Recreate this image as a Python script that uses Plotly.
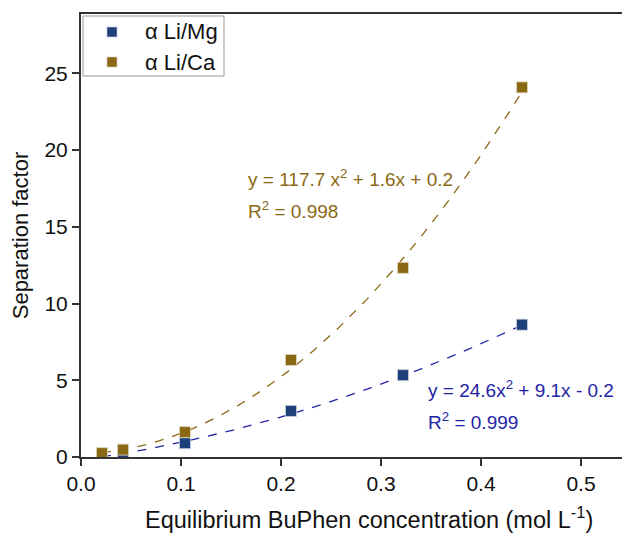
import numpy as np
import plotly.graph_objects as go

conc = [0.021, 0.042, 0.104, 0.210, 0.322, 0.441]
alpha_mg = [0.0, 0.1, 0.9, 3.0, 5.33, 8.62]
alpha_ca = [0.25, 0.48, 1.62, 6.32, 12.32, 24.08]
fit_mg = [24.6, 9.1, -0.2]
fit_ca = [117.7, 1.6, 0.2]
names = ["α Li/Mg", "α Li/Ca"]

c_mg_marker = "#1d3f7a"
c_mg_line = "#2323a5"
c_ca = "#8b6914"

xf = np.linspace(conc[0], conc[-1], 200)
fig = go.Figure()
fig.add_trace(go.Scatter(x=xf, y=np.polyval(fit_ca, xf), mode="lines",
                         line=dict(color=c_ca, width=1.3, dash="dash"), showlegend=False))
fig.add_trace(go.Scatter(x=xf, y=np.polyval(fit_mg, xf), mode="lines",
                         line=dict(color=c_mg_line, width=1.3, dash="dash"), showlegend=False))
fig.add_trace(go.Scatter(x=conc, y=alpha_mg, mode="markers", name=names[0], showlegend=False,
                         marker=dict(symbol="square", size=11, color=c_mg_marker,
                                     line=dict(color="#c8d0e0", width=0.8))))
fig.add_trace(go.Scatter(x=conc, y=alpha_ca, mode="markers", name=names[1], showlegend=False,
                         marker=dict(symbol="square", size=11, color=c_ca,
                                     line=dict(color="#e0d8c0", width=0.8))))

font = "Liberation Sans, Arial, sans-serif"
W, H = 622, 533
L, R, T, B = 81, 0, 14, 76
pw, ph = W - L - R, H - T - B

def px(x):
    return (x - L) / pw

def py(y):
    return (H - B - y) / ph

fig.update_layout(
    width=W, height=H,
    margin=dict(l=L, r=R, t=T, b=B),
    plot_bgcolor="white", paper_bgcolor="white",
    font=dict(family=font, size=21, color="#111"),
    showlegend=False,
    xaxis=dict(range=[0, 0.541], tickvals=[0, 0.1, 0.2, 0.3, 0.4, 0.5],
               ticktext=["0.0", "0.1", "0.2", "0.3", "0.4", "0.5"],
               showgrid=False, zeroline=False, showline=True, linecolor="#333",
               linewidth=2, mirror=True, ticks="outside", ticklen=7, tickwidth=1.5,
               tickcolor="#333"),
    yaxis=dict(range=[0, 28.86], tickvals=[0, 5, 10, 15, 20, 25],
               showgrid=False, zeroline=False, showline=True, linecolor="#333",
               linewidth=2, ticks="outside", ticklen=7, tickwidth=1.5, tickcolor="#333",
               title=dict(text="Separation factor", font=dict(size=22), standoff=10)),
)

# x-axis title (offset to the right as in the reference)
fig.add_annotation(xref="paper", yref="paper", x=px(369), y=py(518),
                   text="Equilibrium BuPhen concentration (mol L<sup>-1</sup>)",
                   showarrow=False, xanchor="center", yanchor="middle",
                   font=dict(size=23.5, color="#111", family=font))

# legend box
fig.add_shape(type="rect", xref="paper", yref="paper",
              x0=px(83), x1=px(224), y0=py(76), y1=py(16),
              line=dict(color="#999", width=1), fillcolor="white", layer="above")
for i, (nm, col) in enumerate(zip(names, [c_mg_marker, c_ca])):
    cy = 32 + 30 * i
    fig.add_shape(type="rect", xref="paper", yref="paper",
                  x0=px(107), x1=px(117), y0=py(cy + 5), y1=py(cy - 5),
                  line=dict(color="#d0d0d0", width=0.6), fillcolor=col, layer="above")
    fig.add_annotation(xref="paper", yref="paper", x=px(143), y=py(cy), text=nm,
                       showarrow=False, xanchor="left", yanchor="middle",
                       font=dict(size=22, color="#111", family=font))

ann = [
    (0.165, 18.2, "y = 117.7 x<sup>2</sup> + 1.6x + 0.2", c_ca),
    (0.165, 16.1, "R<sup>2</sup> = 0.998", c_ca),
    (0.345, 4.4, "y = 24.6x<sup>2</sup> + 9.1x - 0.2", c_mg_line),
    (0.345, 2.35, "R<sup>2</sup> = 0.999", c_mg_line),
]
for x, y, t, c in ann:
    fig.add_annotation(x=x, y=y, text=t, showarrow=False, xanchor="left",
                       yanchor="middle", font=dict(size=19, color=c, family=font))

fig.write_html("out.html")
